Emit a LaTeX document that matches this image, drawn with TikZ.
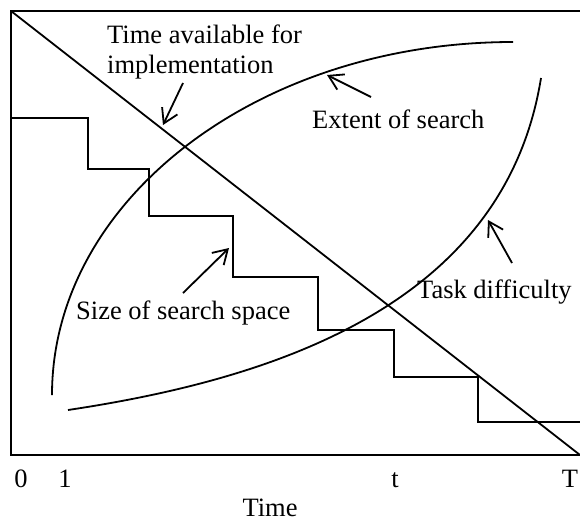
\documentclass[tikz,border=0pt]{standalone}
\usepackage{fontspec}
\setmainfont{Liberation Serif}
\usetikzlibrary{arrows.meta, positioning}

\begin{document}
\begin{tikzpicture}[
  x=1pt, y=-1pt,
  every node/.style={font=\fontsize{26.5}{30}\selectfont, inner sep=0pt},
  curve/.style={line width=1.8pt},
  frame/.style={line width=2.4pt},
  arrow/.style={-{Straight Barb[length=14pt, width=17pt]}, line width=1.8pt},
]
\useasboundingbox (0,0) rectangle (580,522);

% Frame (open on the right)
\draw[frame] (580,11) -- (11,11) -- (11,455) -- (580,455);

% Time available for implementation
\draw[curve] (11,11) -- (580,455);

% Size of search space
\draw[curve] (11,118) -| (88,169) -| (149,216) -| (233,277) -| (318,330) -| (394,377) -| (478,422) -- (580,422);

% Extent of search
\draw[curve] (52,395) .. controls (52,200) and (258,42) .. (513,42);

% Task difficulty
\draw[curve] (68,410) .. controls (268,380) and (504,308) .. (541,78);

% Labels
\node[anchor=north west, align=left] (avail) at (107,25) {Time available for\\implementation};
\node[anchor=base west] (extent) at (312,128) {Extent of search};
\node[anchor=base west] (size) at (76,319) {Size of search space};
\node[anchor=base west] (task) at (417,298) {Task difficulty};

% Axis ticks
\node[anchor=base] (tick0) at (21,487) {0};
\node[anchor=base] (tick1) at (65,487) {1};
\node[anchor=base] (ticks) at (395,487) {t};
\node[anchor=base] (tickT) at (570,487) {T};
\node[anchor=base] (timeax) at (270,516) {Time};

% Pointers
\coordinate (availtail) at (183,83);
\coordinate (availtip) at (163,125);
\coordinate (extenttail) at (371,97);
\coordinate (extenttip) at (327,75);
\coordinate (sizetail) at (183,293);
\coordinate (sizetip) at (229,248);
\coordinate (tasktail) at (512,263);
\coordinate (tasktip) at (488,220);

\draw[arrow] (availtail) -- (availtip);
\draw[arrow] (extenttail) -- (extenttip);
\draw[arrow] (sizetail) -- (sizetip);
\draw[arrow] (tasktail) -- (tasktip);
\end{tikzpicture}
\end{document}
